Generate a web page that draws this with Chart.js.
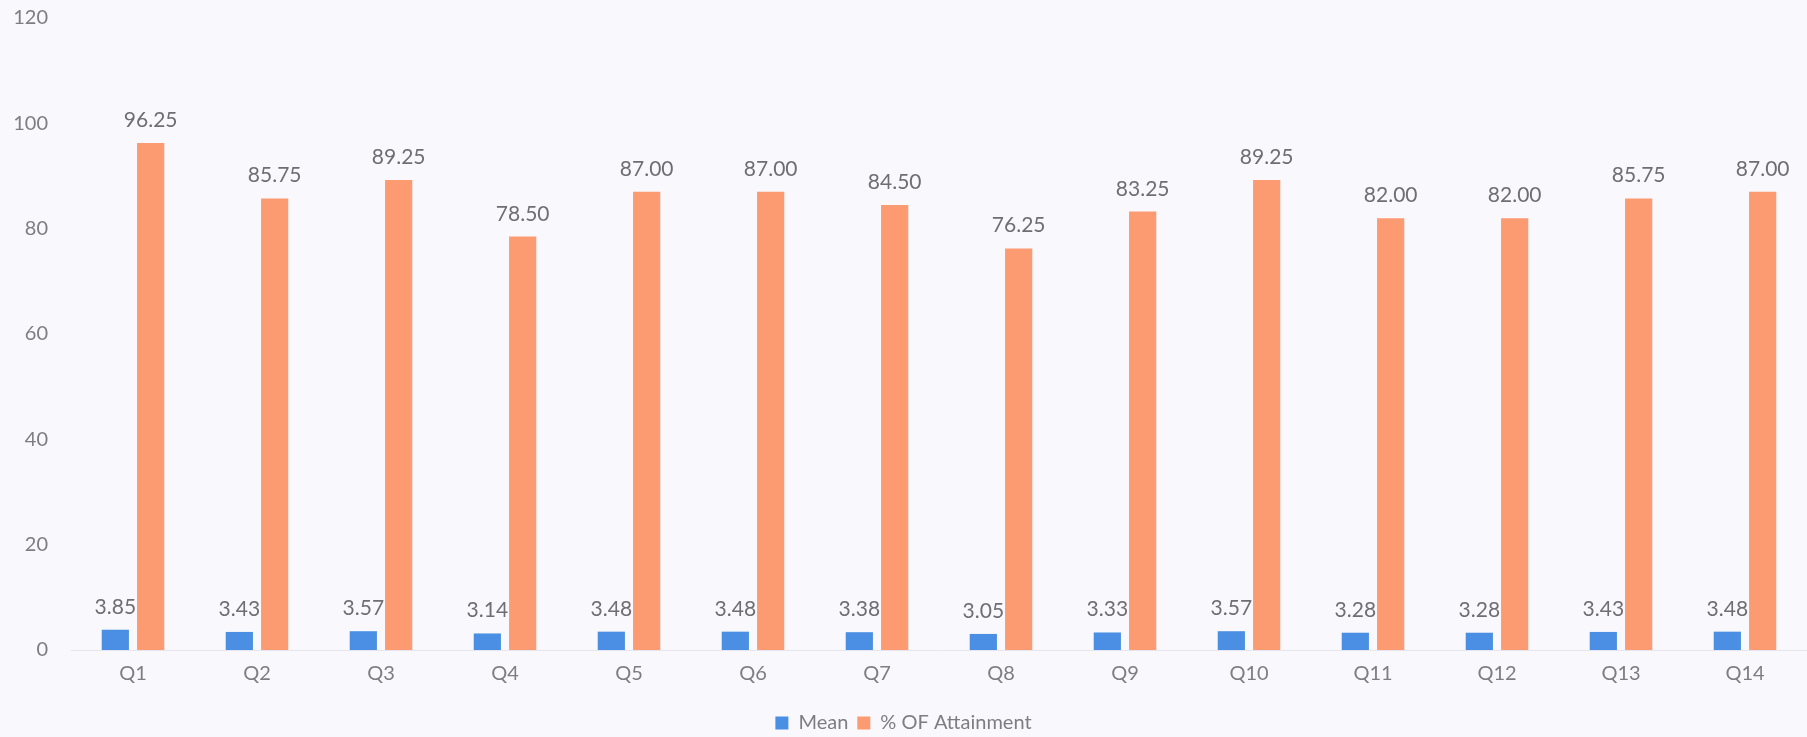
<!DOCTYPE html>
<html>
<head>
<meta charset="utf-8">
<script src="https://cdn.jsdelivr.net/npm/chart.js@4"></script>
<style>
  html, body { margin: 0; padding: 0; background: #f9f8fd; }
  #wrap { width: 1807px; height: 737px; position: relative; }
</style>
</head>
<body>
<div id="wrap"><canvas id="chart"></canvas></div>
<script>
// chart values
const questions = ["Q1", "Q2", "Q3", "Q4", "Q5", "Q6", "Q7", "Q8", "Q9", "Q10", "Q11", "Q12", "Q13", "Q14"];
const meanValues = [3.85, 3.43, 3.57, 3.14, 3.48, 3.48, 3.38, 3.05, 3.33, 3.57, 3.28, 3.28, 3.43, 3.48];
const attainment = [96.25, 85.75, 89.25, 78.50, 87.00, 87.00, 84.50, 76.25, 83.25, 89.25, 82.00, 82.00, 85.75, 87.00];
const yTicks = [0, 20, 40, 60, 80, 100, 120];

const textGray = "#7d7d82";
const fontFamily = "Lato, 'Open Sans', sans-serif";

// draws the value over each bar
const valueLabels = {
    id: "valueLabels",
    afterDatasetsDraw(chart) {
        const ctx = chart.ctx;
        ctx.save();
        ctx.font = "21px " + fontFamily;
        ctx.fillStyle = "#6e6e73";
        ctx.textAlign = "center";
        ctx.textBaseline = "alphabetic";
        chart.data.datasets.forEach((ds, i) => {
            const meta = chart.getDatasetMeta(i);
            meta.data.forEach((bar, j) => {
                ctx.fillText(ds.data[j].toFixed(2), bar.x, bar.y - 16);
            });
        });
        ctx.restore();
    }
};

new Chart(document.getElementById("chart"), {
    type: "bar",
    data: {
        labels: questions,
        datasets: [
            {
                label: "Mean",
                data: meanValues,
                backgroundColor: "#4a8fe3",
                barPercentage: 0.77,
                categoryPercentage: 0.57
            },
            {
                label: "% OF Attainment",
                data: attainment,
                backgroundColor: "#fc9a72",
                barPercentage: 0.77,
                categoryPercentage: 0.57
            }
        ]
    },
    options: {
        responsive: true,
        maintainAspectRatio: false,
        animation: false,
        layout: {
            padding: { top: 0, right: 0, left: 0, bottom: -6 }
        },
        scales: {
            x: {
                grid: { display: false },
                border: { display: true, color: "#e6e4ee", dash: [2, 2] },
                afterFit: scale => { scale.height = 54; },
                ticks: {
                    color: textGray,
                    font: { size: 20, family: fontFamily },
                    padding: 4
                }
            },
            y: {
                min: 0,
                max: 120,
                grid: { display: false },
                border: { display: false },
                afterBuildTicks: scale => {
                    scale.ticks = yTicks.map(v => ({ value: v }));
                },
                afterFit: scale => {
                    scale.width = 71;
                    scale.paddingTop = 18;
                    scale.paddingBottom = 0;
                },
                ticks: {
                    color: textGray,
                    font: { size: 20, family: fontFamily },
                    padding: 15
                }
            }
        },
        plugins: {
            legend: {
                position: "bottom",
                labels: {
                    color: textGray,
                    font: { size: 20, family: fontFamily },
                    boxWidth: 13,
                    boxHeight: 13,
                    padding: 9
                }
            },
            tooltip: { enabled: false }
        }
    },
    plugins: [valueLabels]
});
</script>
</body>
</html>
